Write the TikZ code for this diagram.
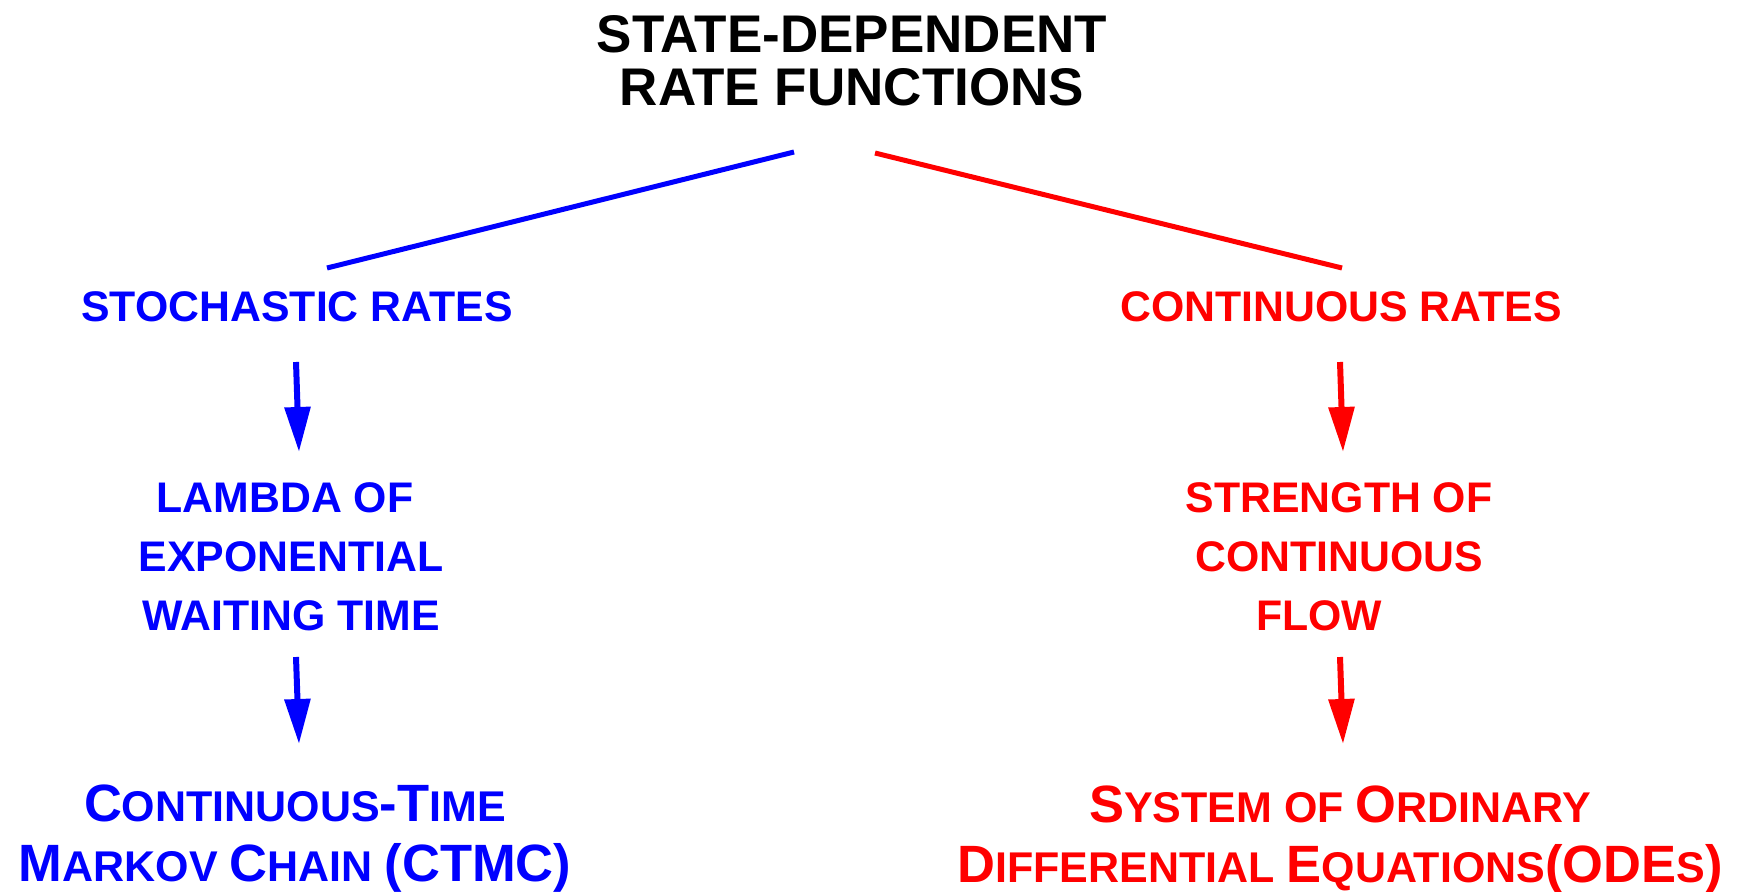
\documentclass[tikz,border=0pt]{standalone}
\usepackage{fontspec}
\setmainfont{Liberation Sans}
\usetikzlibrary{arrows.meta}

% capital letter at full size inside small-caps style lines
\newcommand\Lg[1]{{\fontsize{52.5}{60}\selectfont #1}}

\definecolor{stochblue}{RGB}{0,0,255}
\definecolor{contred}{RGB}{255,0,0}

% multi-line nodes are placed by the baseline of their last line
\tikzset{
  title/.style={anchor=base, inner sep=0pt, align=center,
    font=\bfseries\fontsize{53}{53}\selectfont},
  midlabel/.style={anchor=base, inner sep=0pt, align=center,
    font=\bfseries\fontsize{42.8}{59}\selectfont},
  result/.style={anchor=base, inner sep=0pt, align=center,
    font=\bfseries\fontsize{43}{60}\selectfont},
  branch/.style={line width=5pt},
  flow/.style={line width=6pt, -{Triangle[width=25pt,length=45pt]}},
}

\begin{document}
\begin{tikzpicture}[x=1pt,y=-1pt]
  \useasboundingbox (0,0) rectangle (1739,891);

  % heading
  \node[title] (root) at (852,105) {STATE-DEPENDENT\\RATE FUNCTIONS};

  % the two branches
  \node[midlabel, text=stochblue] (stoch) at (297,321) {STOCHASTIC RATES};
  \node[midlabel, text=contred] (cont) at (1341,321) {CONTINUOUS RATES};

  \node[midlabel, text=stochblue] (lambda) at (291,630)
    {LAMBDA OF\hspace*{12pt}\\EXPONENTIAL\\WAITING TIME};
  \node[midlabel, text=contred] (strength) at (1339,630)
    {STRENGTH OF\\CONTINUOUS\\FLOW\hspace*{40pt}};

  \node[result, text=stochblue] (ctmc) at (295,881)
    {\Lg{C}ONTINUOUS\Lg{-T}IME\\\Lg{M}ARKOV \Lg{C}HAIN \Lg{(CTMC)}};
  \node[result, text=contred] (odes) at (1340,882)
    {\Lg{S}YSTEM OF \Lg{O}RDINARY\\\Lg{D}IFFERENTIAL \Lg{E}QUATIONS\Lg{(ODE}S\Lg{)}};

  % connector end points
  \coordinate (root-l) at (794,152);
  \coordinate (root-r) at (875,153);
  \coordinate (stoch-t) at (327,268);
  \coordinate (cont-t) at (1342,268);
  \coordinate (stoch-b) at (296,362);
  \coordinate (lambda-t) at (299,452);
  \coordinate (lambda-b) at (296,657);
  \coordinate (ctmc-t) at (299,744);
  \coordinate (cont-b) at (1340,362);
  \coordinate (strength-t) at (1343,452);
  \coordinate (strength-b) at (1340,657);
  \coordinate (odes-t) at (1343,744);

  % connectors
  \draw[branch, stochblue] (root-l) -- (stoch-t);
  \draw[branch, contred] (root-r) -- (cont-t);
  \draw[flow, stochblue] (stoch-b) -- (lambda-t);
  \draw[flow, stochblue] (lambda-b) -- (ctmc-t);
  \draw[flow, contred] (cont-b) -- (strength-t);
  \draw[flow, contred] (strength-b) -- (odes-t);
\end{tikzpicture}
\end{document}
